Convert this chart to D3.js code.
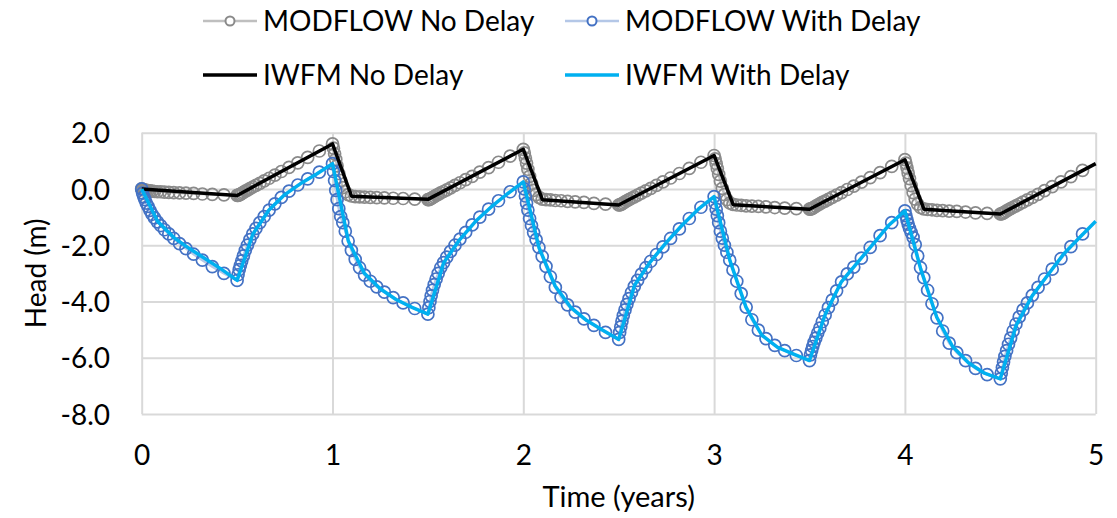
<!DOCTYPE html>
<HTML>
<HEAD>
<TITLE>Head vs Time</TITLE>
<STYLE>
body { margin: 0; background: #ffffff; }
text { font-family: Lato, "Open Sans", sans-serif; fill: #000000; }
</STYLE>
<SCRIPT type="text/javascript" src="https://d3js.org/d3.v7.min.js"></SCRIPT>
</HEAD>
<BODY>
<SVG id="headChart" width="1117" height="518"></SVG>
<SCRIPT type="text/javascript">
// MODFLOW output times (years) and heads (m)
const modTime = [
  0, 0.005, 0.011, 0.017, 0.024, 0.033, 0.043, 0.054, 0.067, 0.082, 0.099, 0.119, 0.142, 0.168, 0.198, 0.232, 0.272, 0.318, 0.370, 0.431, 0.500,
  0.505, 0.511, 0.517, 0.524, 0.533, 0.543, 0.554, 0.567, 0.582, 0.599, 0.619, 0.642, 0.668, 0.698, 0.732, 0.772, 0.818, 0.870, 0.931, 1.000,
  1.005, 1.011, 1.017, 1.024, 1.033, 1.043, 1.054, 1.067, 1.082, 1.099, 1.119, 1.142, 1.168, 1.198, 1.232, 1.272, 1.318, 1.370, 1.431, 1.500,
  1.505, 1.511, 1.517, 1.524, 1.533, 1.543, 1.554, 1.567, 1.582, 1.599, 1.619, 1.642, 1.668, 1.698, 1.732, 1.772, 1.818, 1.870, 1.931, 2.000,
  2.005, 2.011, 2.017, 2.024, 2.033, 2.043, 2.054, 2.067, 2.082, 2.099, 2.119, 2.142, 2.168, 2.198, 2.232, 2.272, 2.318, 2.370, 2.431, 2.500,
  2.505, 2.511, 2.517, 2.524, 2.533, 2.543, 2.554, 2.567, 2.582, 2.599, 2.619, 2.642, 2.668, 2.698, 2.732, 2.772, 2.818, 2.870, 2.931, 3.000,
  3.005, 3.011, 3.017, 3.024, 3.033, 3.043, 3.054, 3.067, 3.082, 3.099, 3.119, 3.142, 3.168, 3.198, 3.232, 3.272, 3.318, 3.370, 3.431, 3.500,
  3.505, 3.511, 3.517, 3.524, 3.533, 3.543, 3.554, 3.567, 3.582, 3.599, 3.619, 3.642, 3.668, 3.698, 3.732, 3.772, 3.818, 3.870, 3.931, 4.000,
  4.005, 4.011, 4.017, 4.024, 4.033, 4.043, 4.054, 4.067, 4.082, 4.099, 4.119, 4.142, 4.168, 4.198, 4.232, 4.272, 4.318, 4.370, 4.431, 4.500,
  4.505, 4.511, 4.517, 4.524, 4.533, 4.543, 4.554, 4.567, 4.582, 4.599, 4.619, 4.642, 4.668, 4.698, 4.732, 4.772, 4.818, 4.870, 4.931
];
const modNoDelay = [
  0, -0.02, -0.03, -0.04, -0.05, -0.06, -0.07, -0.08, -0.09, -0.10, -0.10, -0.11, -0.12, -0.13, -0.14, -0.15, -0.16, -0.18, -0.19, -0.21, -0.23,
  -0.23, -0.21, -0.19, -0.16, -0.12, -0.08, -0.04, 0.01, 0.07, 0.13, 0.20, 0.29, 0.38, 0.49, 0.62, 0.77, 0.93, 1.12, 1.35, 1.60,
  1.45, 1.25, 1.05, 0.82, 0.55, 0.30, 0.05, -0.10, -0.20, -0.25, -0.27, -0.28, -0.29, -0.30, -0.31, -0.32, -0.33, -0.34, -0.36, -0.38,
  -0.38, -0.36, -0.34, -0.31, -0.27, -0.23, -0.19, -0.14, -0.09, -0.03, 0.04, 0.13, 0.22, 0.33, 0.45, 0.60, 0.76, 0.95, 1.17, 1.41,
  1.28, 1.10, 0.92, 0.70, 0.45, 0.20, -0.05, -0.20, -0.30, -0.36, -0.38, -0.39, -0.41, -0.42, -0.44, -0.46, -0.48, -0.51, -0.54, -0.57,
  -0.57, -0.55, -0.53, -0.50, -0.46, -0.42, -0.38, -0.33, -0.28, -0.22, -0.15, -0.07, 0.02, 0.13, 0.25, 0.39, 0.55, 0.73, 0.95, 1.19,
  1.07, 0.90, 0.72, 0.52, 0.28, 0.02, -0.20, -0.38, -0.50, -0.55, -0.57, -0.58, -0.60, -0.61, -0.62, -0.64, -0.66, -0.68, -0.70, -0.72,
  -0.72, -0.70, -0.68, -0.65, -0.61, -0.57, -0.53, -0.48, -0.43, -0.37, -0.30, -0.22, -0.13, -0.02, 0.10, 0.24, 0.40, 0.58, 0.80, 1.04,
  0.92, 0.75, 0.57, 0.37, 0.12, -0.13, -0.36, -0.54, -0.66, -0.71, -0.73, -0.74, -0.76, -0.77, -0.79, -0.80, -0.82, -0.85, -0.87, -0.89,
  -0.89, -0.87, -0.85, -0.82, -0.78, -0.74, -0.70, -0.65, -0.60, -0.54, -0.47, -0.39, -0.30, -0.19, -0.06, 0.08, 0.25, 0.44, 0.66
];
const modWithDelay = [
  0, -0.15, -0.28, -0.38, -0.50, -0.62, -0.76, -0.90, -1.03, -1.17, -1.30, -1.45, -1.60, -1.76, -1.94, -2.12, -2.32, -2.53, -2.76, -3.00, -3.25,
  -3.05, -2.87, -2.72, -2.56, -2.38, -2.18, -2.00, -1.80, -1.60, -1.40, -1.20, -0.98, -0.75, -0.53, -0.30, -0.08, 0.14, 0.36, 0.60, 0.90,
  0.62, 0.30, -0.05, -0.38, -0.70, -0.98, -1.20, -1.50, -1.85, -2.18, -2.50, -2.80, -3.06, -3.28, -3.48, -3.67, -3.86, -4.05, -4.25, -4.45,
  -4.22, -4.00, -3.80, -3.60, -3.40, -3.20, -3.00, -2.80, -2.62, -2.42, -2.22, -2.00, -1.78, -1.54, -1.28, -1.00, -0.72, -0.42, -0.10, 0.25,
  0.00, -0.25, -0.50, -0.75, -1.05, -1.30, -1.55, -1.80, -2.08, -2.40, -2.75, -3.12, -3.50, -3.85, -4.12, -4.38, -4.62, -4.85, -5.10, -5.35,
  -5.10, -4.90, -4.70, -4.50, -4.30, -4.10, -3.90, -3.68, -3.46, -3.25, -3.03, -2.80, -2.57, -2.33, -2.06, -1.76, -1.42, -1.05, -0.65, -0.27,
  -0.50, -0.72, -0.95, -1.20, -1.50, -1.75, -2.00, -2.25, -2.53, -2.88, -3.28, -3.72, -4.20, -4.65, -5.02, -5.32, -5.56, -5.75, -5.92, -6.10,
  -5.90, -5.75, -5.60, -5.45, -5.30, -5.12, -4.95, -4.72, -4.48, -4.22, -3.95, -3.62, -3.30, -3.02, -2.78, -2.46, -2.08, -1.66, -1.20, -0.78,
  -0.95, -1.10, -1.25, -1.40, -1.55, -1.72, -1.98, -2.38, -2.80, -3.15, -3.60, -4.08, -4.58, -5.05, -5.48, -5.82, -6.10, -6.38, -6.60, -6.75,
  -6.55, -6.35, -6.15, -5.95, -5.75, -5.52, -5.30, -5.05, -4.80, -4.55, -4.30, -4.05, -3.78, -3.50, -3.20, -2.85, -2.48, -2.05, -1.60
];

// IWFM results
const iwfmNoDelayTime = [0, 0.5, 1.0, 1.1, 1.5, 2.0, 2.1, 2.5, 3.0, 3.1, 3.5, 4.0, 4.1, 4.5, 5.0];
const iwfmNoDelay = [0, -0.23, 1.60, -0.26, -0.37, 1.41, -0.38, -0.57, 1.19, -0.56, -0.72, 1.04, -0.72, -0.89, 0.90];
const iwfmDelayTime = [
  0, 0.083, 0.167, 0.250, 0.333, 0.417, 0.500, 0.583, 0.667, 0.750, 0.833, 0.917,
  1.000, 1.083, 1.167, 1.250, 1.333, 1.417, 1.500, 1.583, 1.667, 1.750, 1.833, 1.917,
  2.000, 2.083, 2.167, 2.250, 2.333, 2.417, 2.500, 2.583, 2.667, 2.750, 2.833, 2.917,
  3.000, 3.083, 3.167, 3.250, 3.333, 3.417, 3.500, 3.583, 3.667, 3.750, 3.833, 3.917,
  4.000, 4.083, 4.167, 4.250, 4.333, 4.417, 4.500, 4.583, 4.667, 4.750, 4.833, 4.917, 5.000
];
const iwfmWithDelay = [
  0, -1.15, -1.72, -2.12, -2.48, -2.85, -3.25, -1.60, -0.75, -0.20, 0.19, 0.53,
  0.90, -1.85, -3.00, -3.55, -3.93, -4.21, -4.45, -2.62, -1.80, -1.15, -0.63, -0.17,
  0.25, -2.10, -3.45, -4.22, -4.68, -5.02, -5.35, -3.42, -2.58, -1.90, -1.28, -0.72,
  -0.27, -2.55, -4.20, -5.20, -5.63, -5.87, -6.10, -4.45, -3.30, -2.63, -1.96, -1.28,
  -0.78, -2.85, -4.56, -5.60, -6.18, -6.55, -6.75, -4.85, -3.80, -3.05, -2.30, -1.72, -1.15
];

const xTicks = [0, 1, 2, 3, 4, 5];
const yTicks = [-8, -6, -4, -2, 0, 2];
const seriesNames = ["MODFLOW No Delay", "MODFLOW With Delay", "IWFM No Delay", "IWFM With Delay"];

const svg = d3.select("#headChart");
const LEFT = 141.7, RIGHT = 1095.7, TOP = 132.7, BOTTOM = 414;
const GRID = "#d9d9d9";

const xScale = d3.scaleLinear().domain([0, 5]).range([LEFT, RIGHT]);
const yScale = d3.scaleLinear().domain([-8, 2]).range([BOTTOM, TOP]);

// grid + tick labels
const xAxis = svg.append("g")
    .attr("transform", `translate(0,${BOTTOM})`)
    .call(d3.axisBottom(xScale).tickValues(xTicks).tickSize(-(BOTTOM - TOP)).tickFormat(d => d));
xAxis.attr("font-family", null).attr("font-size", null);
xAxis.select(".domain").remove();
xAxis.selectAll("line").attr("stroke", GRID).attr("stroke-width", 2);
xAxis.selectAll("text").attr("y", 51).attr("dy", null).style("font-size", "28px");

const yAxis = svg.append("g")
    .attr("transform", `translate(${LEFT},0)`)
    .call(d3.axisLeft(yScale).tickValues(yTicks).tickSize(-(RIGHT - LEFT)).tickFormat(d => d.toFixed(1)));
yAxis.attr("font-family", null).attr("font-size", null);
yAxis.select(".domain").remove();
yAxis.selectAll("line").attr("stroke", GRID).attr("stroke-width", 2);
yAxis.selectAll("text").attr("x", -(LEFT - 110)).attr("dy", "0.36em").style("font-size", "28px");

svg.append("text")
    .attr("x", (LEFT + RIGHT) / 2).attr("y", 507)
    .attr("text-anchor", "middle")
    .style("font-size", "29px")
    .text("Time (years)");

svg.append("text")
    .attr("transform", `translate(46,${(TOP + BOTTOM) / 2}) rotate(-90)`)
    .attr("text-anchor", "middle")
    .style("font-size", "28px")
    .text("Head (m)");

const modLine = (vals) => d3.line()
    .x((d, i) => xScale(modTime[i]))
    .y(d => yScale(d))(vals);

// MODFLOW No Delay
svg.append("path").attr("d", modLine(modNoDelay))
    .attr("fill", "none").attr("stroke", "#bfbfbf").attr("stroke-width", 2.5);
svg.append("g").selectAll("circle").data(modNoDelay).join("circle")
    .attr("cx", (d, i) => xScale(modTime[i])).attr("cy", d => yScale(d)).attr("r", 6)
    .attr("fill", "none").attr("stroke", "#8a8a8a").attr("stroke-width", 1.7);

// MODFLOW With Delay
svg.append("path").attr("d", modLine(modWithDelay))
    .attr("fill", "none").attr("stroke", "#b4c7e7").attr("stroke-width", 2.5);
svg.append("g").selectAll("circle").data(modWithDelay).join("circle")
    .attr("cx", (d, i) => xScale(modTime[i])).attr("cy", d => yScale(d)).attr("r", 6)
    .attr("fill", "none").attr("stroke", "#4472c4").attr("stroke-width", 1.7);

// IWFM lines
svg.append("path")
    .attr("d", d3.line().x((d, i) => xScale(iwfmNoDelayTime[i])).y(d => yScale(d))(iwfmNoDelay))
    .attr("fill", "none").attr("stroke", "#000000").attr("stroke-width", 3.5)
    .attr("stroke-linejoin", "round");
svg.append("path")
    .attr("d", d3.line().x((d, i) => xScale(iwfmDelayTime[i])).y(d => yScale(d))(iwfmWithDelay))
    .attr("fill", "none").attr("stroke", "#00b0f0").attr("stroke-width", 3.5)
    .attr("stroke-linejoin", "round");

// legend
const legendX = [203, 565];
const legendY = [21, 75];
const legendStyle = [
  {line: "#bfbfbf", dot: "#8a8a8a", w: 2.5},
  {line: "#b4c7e7", dot: "#4472c4", w: 2.5},
  {line: "#000000", dot: null, w: 3.5},
  {line: "#00b0f0", dot: null, w: 3.5}
];
seriesNames.forEach((name, i) => {
  const x0 = legendX[i % 2], y0 = legendY[Math.floor(i / 2)];
  const st = legendStyle[i];
  const g = svg.append("g");
  g.append("line").attr("x1", x0).attr("x2", x0 + 54).attr("y1", y0).attr("y2", y0)
   .attr("stroke", st.line).attr("stroke-width", st.w);
  if (st.dot) {
    g.append("circle").attr("cx", x0 + 27).attr("cy", y0).attr("r", 4.5)
     .attr("fill", "#ffffff").attr("stroke", st.dot).attr("stroke-width", 2);
  }
  g.append("text").attr("x", x0 + 60).attr("y", y0).attr("dy", "0.35em")
   .style("font-size", "28px").text(name);
});
</SCRIPT>
</BODY>
</HTML>
